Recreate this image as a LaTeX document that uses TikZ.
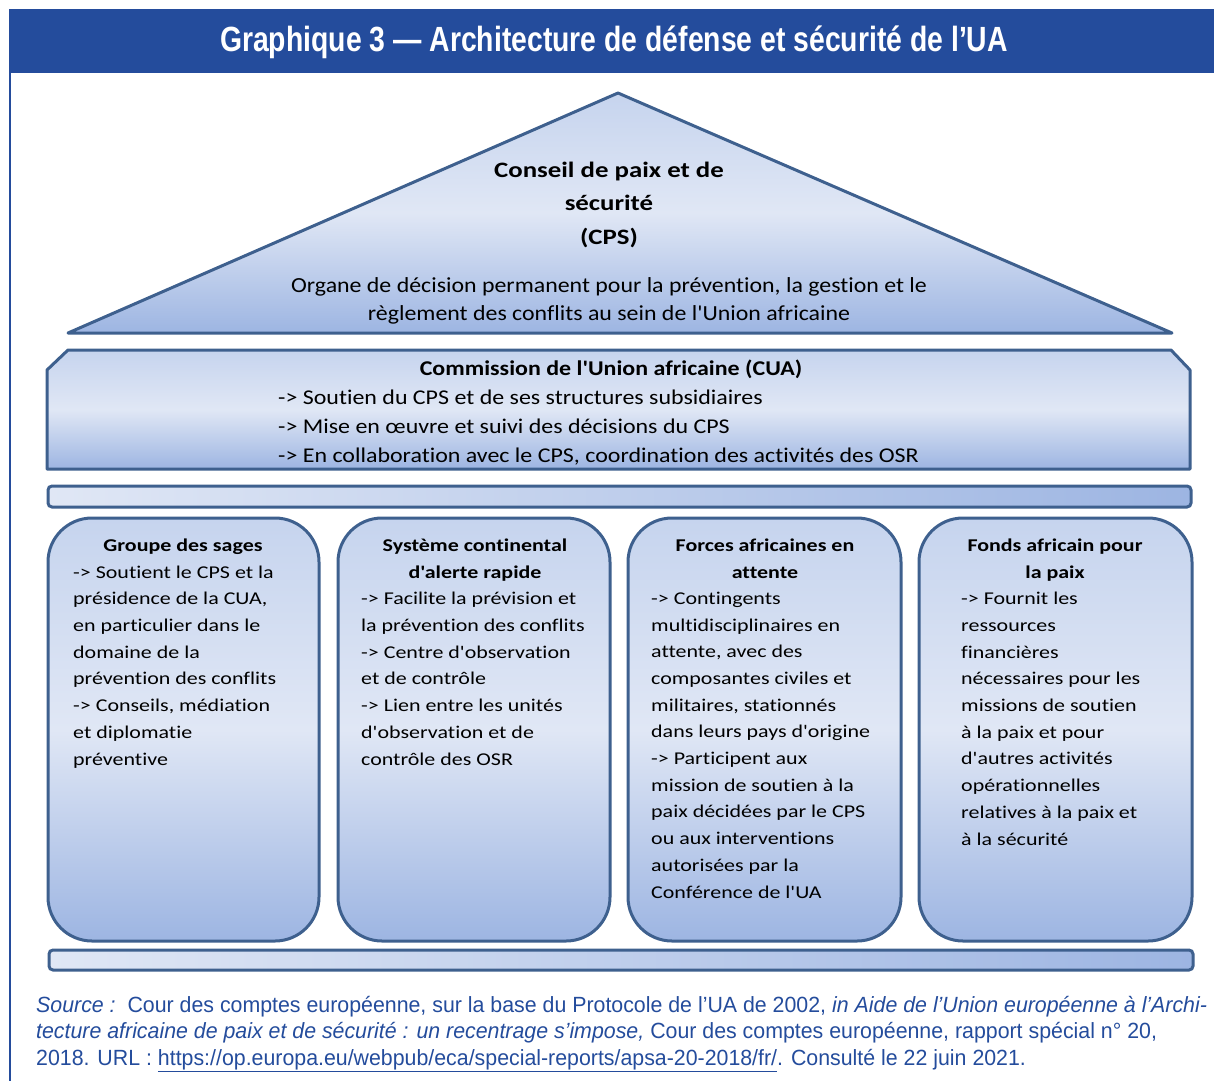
\documentclass[tikz,border=0pt]{standalone}
\usepackage{fontspec}
\setmainfont{Carlito}[Ligatures={TeXOff,NoCommon}]
\newfontfamily\pillarfont[FakeStretch=1.22, Ligatures={TeXOff,NoCommon}]{Carlito}
\newfontfamily\roofheadfont[FakeStretch=1.22, Ligatures={TeXOff,NoCommon}]{Carlito}
\newfontfamily\roofbodyfont[FakeStretch=1.11, Ligatures={TeXOff,NoCommon}]{Carlito}
\newfontfamily\cuafont[FakeStretch=1.14, Ligatures={TeXOff,NoCommon}]{Carlito}
\newfontfamily\bannerfont[FakeStretch=0.81]{Liberation Sans}
\newfontfamily\sourcefont[FakeStretch=0.97]{Liberation Sans}
\definecolor{banner}{RGB}{36, 76, 156}
\definecolor{slate}{RGB}{62, 96, 142}
\definecolor{frost}{RGB}{224, 231, 245}
\definecolor{powder}{RGB}{198, 212, 238}
\definecolor{cornflower}{RGB}{157, 181, 226}

\begin{document}
\begin{tikzpicture}[x=1pt, y=-1pt, inner sep=0pt,
    block/.style={draw=slate, line width=3pt, line join=round,
                  top color=powder, bottom color=cornflower, middle color=frost},
    pillar/.style={block, rounded corners=44pt},
    beam/.style={draw=slate, line width=3pt, rounded corners=4pt,
                 left color=frost, right color=cornflower},
    roofhead/.style={anchor=base, align=center, font=\roofheadfont\fontsize{22}{33.5}\selectfont\bfseries},
    rooftext/.style={anchor=base, align=center, font=\roofbodyfont\fontsize{21.5}{28}\selectfont},
    colhead/.style={anchor=base, align=center, font=\pillarfont\fontsize{18}{26.7}\selectfont\bfseries},
    coltext/.style={anchor=base west, align=left, font=\pillarfont\fontsize{18}{26.7}\selectfont}]
        \useasboundingbox (0,0) rectangle (1214,1081);
        % banner and frame (base anchor = last line)
        \fill[banner]                                   (   9,   9) rectangle (1214,  73);
        \draw[banner, line width=2pt]                   (  10,  73) -- (  10,1081);
        \node[anchor=base, text=white, font=\bannerfont\bfseries\fontsize{35}{40}\selectfont] (title) at (614, 52)
             {Graphique 3 — Architecture de défense et sécurité de l’UA};
        % roof
        \draw[block]                                    (  68, 333) -- ( 618,  93) -- (1172, 333) -- cycle;
        \node[roofhead] (cps) at (609, 244) {Conseil de paix et de\\sécurité\\(CPS)};
        \node[rooftext] (cpsrole) at (609, 320)
             {Organe de décision permanent pour la prévention, la gestion et le\\règlement des conflits au sein de l'Union africaine};
        % commission
        \draw[block]                                    (  47, 370) -- (  68, 350) -- (1171, 350) -- (1190, 370)
                                                     -- (1190, 469) -- (  47, 469) -- cycle;
        \node[anchor=base, font=\cuafont\fontsize{21}{28.5}\selectfont\bfseries] (cua) at (611, 375)
             {Commission de l'Union africaine (CUA)};
        \node[anchor=base west, align=left, font=\cuafont\fontsize{21}{28.8}\selectfont] (cuarole) at (278, 462)
             {-> Soutien du CPS et de ses structures subsidiaires\\
              -> Mise en œuvre et suivi des décisions du CPS\\
              -> En collaboration avec le CPS, coordination des activités des OSR};
        % beams
        \draw[beam]                                     (  48, 486) rectangle (1191, 507);
        \draw[beam]                                     (  49, 950) rectangle (1193, 970);
        % pillars
        \draw[pillar]                                   (  48, 518) rectangle ( 319, 941);
        \draw[pillar]                                   ( 338, 518) rectangle ( 610, 941);
        \draw[pillar]                                   ( 628, 518) rectangle ( 901, 941);
        \draw[pillar]                                   ( 919, 518) rectangle (1192, 941);
        \node[colhead] (sages) at ( 183, 551) {Groupe des sages};
        \node[coltext] (sagesrole) at (  73, 765)
             {-> Soutient le CPS et la\\présidence de la CUA,\\en particulier dans le\\domaine de la\\prévention des conflits\\
              -> Conseils, médiation\\et diplomatie\\préventive};
        \node[colhead] (alerte) at ( 475, 578) {Système continental\\d'alerte rapide};
        \node[coltext] (alerterole) at ( 361, 765)
             {-> Facilite la prévision et\\la prévention des conflits\\-> Centre d'observation\\et de contrôle\\
              -> Lien entre les unités\\d'observation et de\\contrôle des OSR};
        \node[colhead] (forces) at ( 765, 578) {Forces africaines en\\attente};
        \node[coltext] (forcesrole) at ( 651, 898)
             {-> Contingents\\multidisciplinaires en\\attente, avec des\\composantes civiles et\\militaires, stationnés\\
              dans leurs pays d'origine\\-> Participent aux\\mission de soutien à la\\paix décidées par le CPS\\
              ou aux interventions\\autorisées par la\\Conférence de l'UA};
        \node[colhead] (fonds) at (1055, 578) {Fonds africain pour\\la paix};
        \node[coltext] (fondsrole) at ( 961, 845)
             {-> Fournit les\\ressources\\financières\\nécessaires pour les\\missions de soutien\\à la paix et pour\\
              d'autres activités\\opérationnelles\\relatives à la paix et\\à la sécurité};
        % source
        \node[anchor=base west, align=left, text=banner, font=\sourcefont\fontsize{22}{26.5}\selectfont] (source) at (36, 1065)
             {\textit{Source~:}\ \ Cour des comptes européenne, sur la base du Protocole de l’UA de 2002, \textit{in Aide de l’Union européenne à l’Archi-}\\
              \textit{tecture africaine de paix et de sécurité : un recentrage s’impose,} Cour des comptes européenne, rapport spécial n° 20,\\
              2018. URL : \underline{https://op.europa.eu/webpub/eca/special-reports/apsa-20-2018/fr/}. Consulté le 22 juin 2021.};
\end{tikzpicture}
\end{document}
